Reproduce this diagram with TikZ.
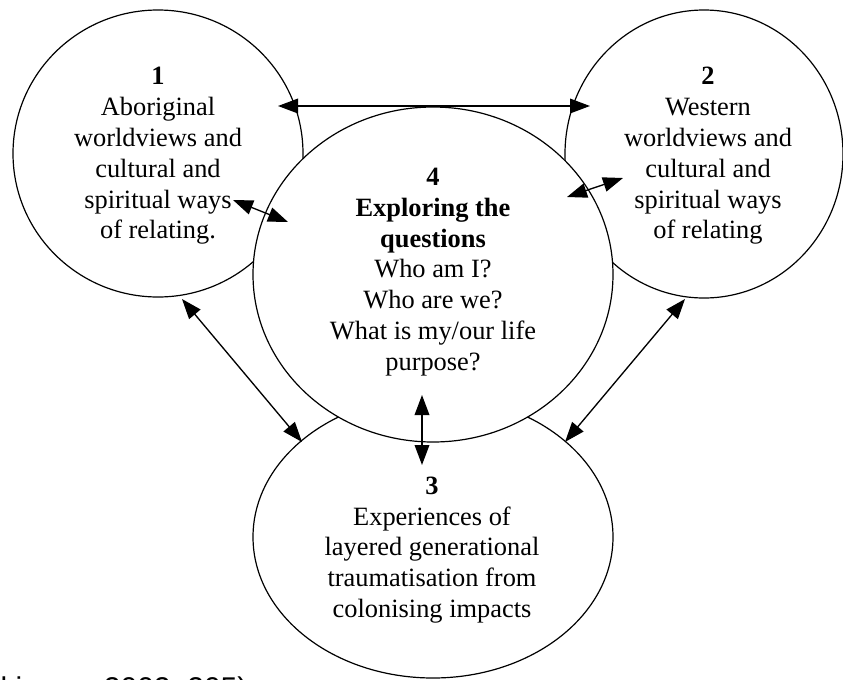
\documentclass[tikz,border=0pt]{standalone}
\usepackage{fontspec}
\setmainfont{Liberation Serif}
\usetikzlibrary{shapes.geometric,arrows.meta}
\tikzset{
  x=0.75pt, y=-0.75pt,
  bubble/.style={ellipse, draw=black, fill=white, line width=0.9pt, inner sep=0pt},
  txt/.style={align=center, font=\fontsize{19.8pt}{23.1pt}\selectfont, inner sep=0pt},
  link/.style={line width=1pt, {Triangle[length=15pt,width=11pt]}-{Triangle[length=15pt,width=11pt]}}
}
\begin{document}
\begin{tikzpicture}
\useasboundingbox (0,0) rectangle (843,679);
% outer circles
\node[bubble, minimum width=217.5pt, minimum height=215.25pt] (c1) at (158,153.5) {};
\node[bubble, minimum width=208.5pt, minimum height=216pt] (c2) at (704,154) {};
\node[bubble, minimum width=270pt, minimum height=211.5pt] (c3) at (433,537) {};
% centre circle on top
\node[bubble, minimum width=270pt, minimum height=251.25pt] (c4) at (433,274.5) {};
% texts
\node[txt] (t1) at (158,156) {\textbf{1}\\Aboriginal\\worldviews and\\cultural and\\spiritual ways\\of relating.};
\node[txt] (t2) at (708,156) {\textbf{2}\\Western\\worldviews and\\cultural and\\spiritual ways\\of relating};
\node[txt] (t4) at (433,272) {\textbf{4}\\\textbf{Exploring the}\\\textbf{questions}\\Who am I?\\Who are we?\\What is my/our life\\purpose?};
\node[txt] (t3) at (432,550) {\textbf{3}\\Experiences of\\layered generational\\traumatisation from\\colonising impacts};
% arrow end points
\coordinate (a1) at (278,106); \coordinate (a2) at (590,106);
\coordinate (b1) at (233,200); \coordinate (b4) at (288,222);
\coordinate (e4) at (567,197); \coordinate (e2) at (623,178);
\coordinate (d1) at (182,299); \coordinate (d3) at (302,442);
\coordinate (f2) at (685,299); \coordinate (f3) at (565,442);
\coordinate (g4) at (422,395); \coordinate (g3) at (422,465);
\draw[link] (a1) -- (a2);
\draw[link] (b1) -- (b4);
\draw[link] (e4) -- (e2);
\draw[link] (d1) -- (d3);
\draw[link] (f2) -- (f3);
\draw[link] (g4) -- (g3);
% cut-off source line (only its top shows, as in the reference)
\node[anchor=base west, inner sep=0pt, font=\fontspec{Liberation Sans}\fontsize{22.5pt}{27pt}\selectfont] (src) at (-38,698) {(Atkinson, 2002, 205)};
\end{tikzpicture}
\end{document}
